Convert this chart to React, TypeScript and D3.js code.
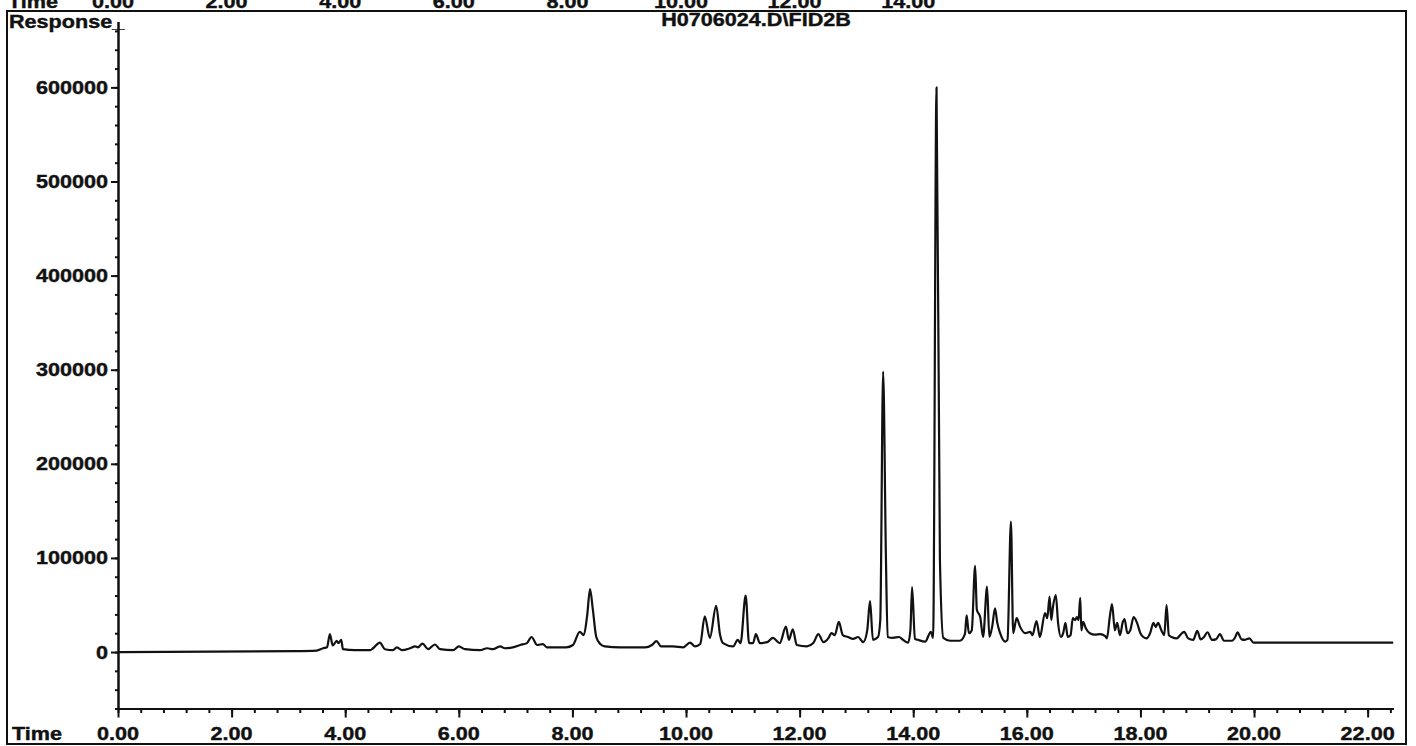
import React, { useEffect, useRef } from "react";
import * as d3 from "d3";

// retention time (min) of each trace vertex
const times = [
  0.0, 3.12, 3.5, 3.61, 3.68, 3.73, 3.78, 3.8, 3.85, 3.88, 3.93, 3.96, 4.17, 4.44, 4.49, 4.61, 4.7, 4.84, 4.91, 5.0,
  5.14, 5.23, 5.28, 5.36, 5.46, 5.58, 5.67, 5.9, 6.0, 6.11, 6.37, 6.5, 6.6, 6.73, 6.81, 6.95, 7.08, 7.2, 7.28, 7.38,
  7.48, 7.55, 7.73, 7.89, 8.01, 8.13, 8.2, 8.26, 8.31, 8.36, 8.42, 8.49, 8.57, 8.84, 9.05, 9.28, 9.4, 9.48, 9.56, 9.77,
  9.95, 10.07, 10.16, 10.25, 10.33, 10.42, 10.53, 10.6, 10.65, 10.83, 10.91, 10.96, 11.05, 11.11, 11.18, 11.23, 11.3,
  11.43, 11.53, 11.65, 11.76, 11.81, 11.88, 11.95, 12.13, 12.24, 12.33, 12.42, 12.51, 12.56, 12.62, 12.69, 12.76, 12.85,
  12.94, 13.03, 13.12, 13.19, 13.24, 13.29, 13.38, 13.42, 13.47, 13.52, 13.55, 13.64, 13.75, 13.82, 13.91, 13.95, 13.98,
  14.03, 14.08, 14.21, 14.31, 14.35, 14.41, 14.47, 14.53, 14.65, 14.82, 14.91, 14.94, 14.98, 15.03, 15.09, 15.12, 15.18,
  15.23, 15.3, 15.34, 15.39, 15.44, 15.48, 15.53, 15.62, 15.66, 15.72, 15.76, 15.82, 15.88, 15.97, 16.06, 16.1, 16.17,
  16.23, 16.32, 16.36, 16.4, 16.43, 16.46, 16.51, 16.55, 16.6, 16.64, 16.68, 16.72, 16.77, 16.81, 16.85, 16.88, 16.91,
  16.94, 16.96, 16.99, 17.04, 17.11, 17.2, 17.29, 17.38, 17.41, 17.46, 17.5, 17.55, 17.59, 17.64, 17.69, 17.72, 17.77,
  17.82, 17.88, 17.94, 18.0, 18.05, 18.11, 18.17, 18.23, 18.27, 18.31, 18.37, 18.42, 18.46, 18.5, 18.55, 18.64, 18.7,
  18.77, 18.84, 18.93, 19.0, 19.06, 19.12, 19.18, 19.26, 19.33, 19.4, 19.47, 19.61, 19.67, 19.71, 19.78, 19.84, 19.92,
  19.99, 20.81, 22.45,
];

// detector response at each vertex
const responses = [
  0, 1000, 1500, 4000, 5000, 19000, 7000, 8000, 12000, 9500, 13000, 3000, 2000, 2000, 4000, 10000, 3000, 2000, 5000, 2000,
  4000, 6000, 5000, 9000, 3000, 8000, 3000, 2000, 6000, 3000, 2000, 4000, 3000, 6000, 4000, 5000, 7500, 9500, 16000, 7500,
  8500, 5000, 5000, 5000, 7500, 21500, 18000, 39000, 67000, 45000, 16000, 8500, 6000, 5000, 5000, 5000, 7500, 11500, 6000, 6000,
  5000, 10000, 6000, 8500, 38000, 15000, 49000, 18000, 9500, 6000, 13000, 9500, 60000, 9500, 9500, 19000, 9500,
  10500, 15000, 9500, 27000, 13000, 24000, 7500, 6000, 9500, 19000, 10500, 15000, 20000, 18000, 32000, 18000, 16000,
  14000, 16000, 10500, 23000, 54000, 13000, 16000, 34000, 298000, 98000, 16000, 15000, 16000, 13000, 10000, 23000, 69000,
  14000, 13000, 11000, 21500, 15000, 600000, 98000, 15000, 12000, 12000, 19000, 39000, 20000, 23000, 91500, 45000, 37000,
  16000, 69500, 16000, 27000, 46500, 31000, 20000, 11000, 13000, 138500, 20000, 36000, 27000, 20000, 21500, 18000, 33000,
  16000, 41500, 36000, 59000, 34000, 48000, 60500, 31000, 16000, 20000, 31000, 16000, 18000, 36000, 34000, 37000, 34000,
  57500, 23000, 32000, 25000, 20000, 18500, 19000, 17000, 14500, 37000, 51000, 23000, 31000, 18000, 32000, 35000, 20000,
  23000, 37000, 31000, 20000, 16000, 14500, 20000, 31000, 26500, 31000, 23000, 18000, 50000, 18000, 16000, 14500, 18000,
  21500, 14500, 13000, 22500, 13500, 16000, 21000, 13000, 13500, 19000, 12000, 12000, 16000, 21000, 13500, 13000, 14500,
  10000, 10000, 10000,
];

const yMajorTicks = [0, 100000, 200000, 300000, 400000, 500000, 600000];
const xMajorTicks = [0, 2, 4, 6, 8, 10, 12, 14, 16, 18, 20, 22];
// axis of the previous page, cut off at the top edge of the scan
const topStripTicks = [0, 2, 4, 6, 8, 10, 12, 14];
const title = "H0706024.D\\FID2B";

export default function App() {
  const ref = useRef<SVGSVGElement>(null);

  useEffect(() => {
    const W = 1416;
    const H = 746;
    const ink = "#111";
    const font = "'Liberation Sans', Arial, sans-serif";
    const svg = d3.select(ref.current);
    svg.selectAll("*").remove();

    const x = d3.scaleLinear().domain([0, 22.45]).range([118, 1393.2]);
    const y = d3.scaleLinear().domain([-60000, 670000]).range([708.5, 21.5]);

    svg.append("rect").attr("width", W).attr("height", H).attr("fill", "#fff");

    // scanned text is wider than the font, so stretch it a bit
    const label = (txt: string, px: number, py: number, anchor: string) =>
      svg
        .append("text")
        .attr("transform", `translate(${px},${py}) scale(1.2,1)`)
        .attr("text-anchor", anchor)
        .attr("font-size", 18)
        .attr("font-weight", "bold")
        .attr("font-family", font)
        .attr("fill", ink)
        .attr("stroke", ink)
        .attr("stroke-width", 0.4)
        .text(txt);

    // page frame
    svg
      .append("rect")
      .attr("x", 7)
      .attr("y", 11)
      .attr("width", 1399)
      .attr("height", 733)
      .attr("fill", "none")
      .attr("stroke", ink)
      .attr("stroke-width", 2);

    // top strip, mostly cut off
    label("Time", 8, 8, "start");
    topStripTicks.forEach((v) => label(d3.format(".2f")(v), x(v) - 5, 8, "middle"));

    label("Response_", 9, 28, "start");
    label(title, 756, 26, "middle");

    // y axis
    const yAxis = svg.append("g").attr("transform", "translate(118,0)");
    yAxis
      .call(d3.axisLeft(y).tickValues(d3.range(-60000, 670001, 20000)).tickSize(3).tickSizeOuter(0).tickFormat(() => ""));
    yAxis
      .append("g")
      .call(d3.axisLeft(y).tickValues(yMajorTicks).tickSize(7).tickSizeOuter(0).tickFormat(() => ""));
    yAxis.selectAll("path,line").attr("stroke", ink).attr("stroke-width", 2);
    yMajorTicks.forEach((v) => label(d3.format("d")(v), 108, y(v) + 6.5, "end"));

    // x axis
    const xAxis = svg.append("g").attr("transform", `translate(0,${y(-60000)})`);
    xAxis.call(d3.axisBottom(x).tickValues(d3.range(0, 22.41, 0.4)).tickSize(4.5).tickSizeOuter(0).tickFormat(() => ""));
    xAxis.append("g").call(d3.axisBottom(x).tickValues(xMajorTicks).tickSize(9).tickSizeOuter(0).tickFormat(() => ""));
    xAxis.selectAll("path,line").attr("stroke", ink).attr("stroke-width", 2);
    xMajorTicks.forEach((v) => label(d3.format(".2f")(v), x(v), 740, "middle"));
    label("Time", 12, 740, "start");

    // chromatogram trace
    const line = d3
      .line<number>()
      .x((d, i) => x(times[i]))
      .y((d) => y(d))
      .curve(d3.curveMonotoneX);
    svg
      .append("path")
      .datum(responses)
      .attr("d", line)
      .attr("fill", "none")
      .attr("stroke", ink)
      .attr("stroke-width", 2.2)
      .attr("stroke-linejoin", "round");
  }, []);

  return (
    <svg
      ref={ref}
      width={1416}
      height={746}
      style={{ position: "absolute", left: 0, top: 0, background: "#fff" }}
    />
  );
}
